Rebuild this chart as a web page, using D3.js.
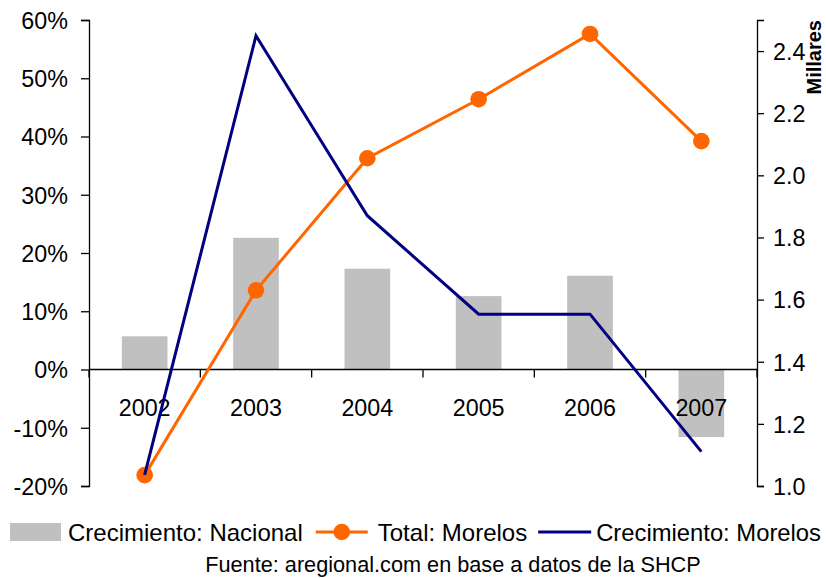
<!DOCTYPE html>
<html>
<head>
<meta charset="utf-8">
<script src="https://cdn.jsdelivr.net/npm/d3@7"></script>
<style>
  html, body { margin: 0; padding: 0; background: #fff; }
  svg { display: block; }
  text { font-family: "Liberation Sans", Arial, sans-serif; fill: #000; }
</style>
</head>
<body>
<div id="chart"></div>
<script>
// ---- Data ----
const categories = ["2002", "2003", "2004", "2005", "2006", "2007"];
const crecimientoNacional = [5.7, 22.6, 17.3, 12.6, 16.1, -11.6];       // % (left axis, bars)
const totalMorelos = [1.035, 1.63, 2.055, 2.245, 2.455, 2.11];         // Millares (right axis)
const crecimientoMorelos = [-18.1, 57.3, 26.4, 9.5, 9.5, -14.1];       // % (left axis)
const leftTicks = [-20, -10, 0, 10, 20, 30, 40, 50, 60];
const rightTicks = [1.0, 1.2, 1.4, 1.6, 1.8, 2.0, 2.2, 2.4];
const seriesNames = ["Crecimiento: Nacional", "Total: Morelos", "Crecimiento: Morelos"];
const rightTitle = "Millares";
const sourceText = "Fuente: aregional.com en base a datos de la SHCP";

// ---- Layout ----
const W = 826, H = 578;
const plot = { left: 89, right: 757, top: 20, bottom: 486 };
const colors = { bar: "#C0C0C0", orange: "#FF6600", navy: "#000080" };

const svg = d3.select("#chart").append("svg")
  .attr("width", W).attr("height", H);

const x = d3.scaleBand().domain(categories).range([plot.left, plot.right]).padding(0);
const yL = d3.scaleLinear().domain([-20, 60]).range([plot.bottom, plot.top]);
const yR = d3.scaleLinear().domain([1.0, 2.5]).range([plot.bottom, plot.top]);

const barW = x.bandwidth() * 0.41;

// Bars
svg.append("g").selectAll("rect")
  .data(categories.map((c, i) => ({ c, v: crecimientoNacional[i] })))
  .join("rect")
  .attr("x", d => x(d.c) + (x.bandwidth() - barW) / 2)
  .attr("width", barW)
  .attr("y", d => Math.min(yL(d.v), yL(0)))
  .attr("height", d => Math.abs(yL(d.v) - yL(0)))
  .attr("fill", colors.bar);

// Left axis
const leftAxis = d3.axisLeft(yL).tickValues(leftTicks)
  .tickFormat(d => d + "%").tickSizeOuter(0).tickSize(8).tickPadding(13);
const gL = svg.append("g").attr("transform", `translate(${plot.left},0)`).call(leftAxis);
gL.select(".domain").attr("stroke", "#000").attr("stroke-width", 1.3);
gL.selectAll(".tick line").attr("stroke", "#000").attr("stroke-width", 1.3);
gL.selectAll("text").style("font-size", "23.3px").attr("dy", "0.36em");

// Right axis
const rightAxis = d3.axisRight(yR).tickValues(rightTicks)
  .tickFormat(d3.format(".1f")).tickSizeOuter(0).tickSize(7).tickPadding(9);
const gR = svg.append("g").attr("transform", `translate(${plot.right},0)`).call(rightAxis);
gR.select(".domain").attr("stroke", "#000").attr("stroke-width", 1.3);
gR.selectAll(".tick line").attr("stroke", "#000").attr("stroke-width", 1.3);
gR.selectAll("text").style("font-size", "23.3px").attr("dy", "0.36em");

// Right axis title
svg.append("text")
  .attr("transform", `translate(821,${plot.top}) rotate(-90)`)
  .attr("text-anchor", "end")
  .style("font-size", "20px").style("font-weight", "bold")
  .text(rightTitle);

// X axis at zero line with ticks at category boundaries
const gX = svg.append("g");
gX.append("line")
  .attr("x1", plot.left).attr("x2", plot.right)
  .attr("y1", yL(0)).attr("y2", yL(0))
  .attr("stroke", "#000").attr("stroke-width", 1.3);
const bounds = categories.map(c => x(c)).concat([x(categories[categories.length - 1]) + x.bandwidth()]);
gX.selectAll("line.tk").data(bounds).join("line").attr("class", "tk")
  .attr("x1", d => d).attr("x2", d => d)
  .attr("y1", yL(0)).attr("y2", yL(0) + 8)
  .attr("stroke", "#000").attr("stroke-width", 1.3);
gX.selectAll("text").data(categories).join("text")
  .attr("x", d => x(d) + x.bandwidth() / 2)
  .attr("y", yL(0) + 46)
  .attr("text-anchor", "middle")
  .style("font-size", "23.3px")
  .text(d => d);

// Orange line: Total Morelos (right axis)
const lineR = d3.line().x((d, i) => x(categories[i]) + x.bandwidth() / 2).y(d => yR(d));
svg.append("path").datum(totalMorelos)
  .attr("d", lineR).attr("fill", "none")
  .attr("stroke", colors.orange).attr("stroke-width", 3);
svg.append("g").selectAll("circle").data(totalMorelos).join("circle")
  .attr("cx", (d, i) => x(categories[i]) + x.bandwidth() / 2)
  .attr("cy", d => yR(d)).attr("r", 8.3)
  .attr("fill", colors.orange);

// Navy line: Crecimiento Morelos (left axis)
const lineL = d3.line().x((d, i) => x(categories[i]) + x.bandwidth() / 2).y(d => yL(d));
svg.append("path").datum(crecimientoMorelos)
  .attr("d", lineL).attr("fill", "none")
  .attr("stroke", colors.navy).attr("stroke-width", 3);

// Legend
const legY = 532;
const lg = svg.append("g");
let cx = 10;
lg.append("rect").attr("x", cx).attr("y", legY - 9).attr("width", 51).attr("height", 18).attr("fill", colors.bar);
cx += 51 + 7;
let t = lg.append("text").attr("x", cx).attr("y", legY + 8.5).style("font-size", "24px").text(seriesNames[0]);
cx += t.node().getComputedTextLength() + 13;
lg.append("line").attr("x1", cx).attr("x2", cx + 52).attr("y1", legY).attr("y2", legY)
  .attr("stroke", colors.orange).attr("stroke-width", 3);
lg.append("circle").attr("cx", cx + 26).attr("cy", legY).attr("r", 8.3).attr("fill", colors.orange);
cx += 52 + 10;
t = lg.append("text").attr("x", cx).attr("y", legY + 8.5).style("font-size", "24px").text(seriesNames[1]);
cx += t.node().getComputedTextLength() + 11;
lg.append("line").attr("x1", cx).attr("x2", cx + 53).attr("y1", legY).attr("y2", legY)
  .attr("stroke", colors.navy).attr("stroke-width", 3);
cx += 53 + 5;
lg.append("text").attr("x", cx).attr("y", legY + 8.5).style("font-size", "23.8px").text(seriesNames[2]);

// Source
svg.append("text").attr("x", 453).attr("y", 572).attr("text-anchor", "middle")
  .style("font-size", "21.7px").text(sourceText);
</script>
</body>
</html>
